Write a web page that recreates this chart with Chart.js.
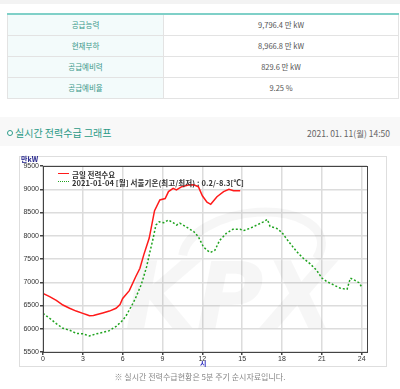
<!DOCTYPE html>
<html><head><meta charset="utf-8">
<script src="https://cdn.jsdelivr.net/npm/chart.js@4/dist/chart.umd.min.js"></script>
<style>
html,body{margin:0;padding:0;background:#fff;width:400px;height:389px;overflow:hidden;font-family:"Noto Sans CJK KR","Noto Sans",sans-serif;}
.abs{position:absolute;white-space:nowrap;}
#topbar{left:0;top:0;width:400px;height:4px;background:#f3f3f3;}
table{position:absolute;left:7px;top:13px;width:392px;border-collapse:collapse;border-top:2px solid #7fd0c8;font-size:7.5px;}
td{height:20px;border:1px solid #e3e3e3;text-align:center;padding:0;line-height:20px;}
td.k{width:155px;background:#f3fbfb;color:#3a988a;}
td.v{color:#555;}
#sec{left:0;top:117px;width:400px;height:29px;background:#f8f8f8;}
#icon{left:7px;top:130px;width:4px;height:4px;border:1.5px solid #2f9c8a;border-radius:50%;background:#fff;}
#title{left:15px;top:126px;font-size:10px;line-height:14px;color:#2b9a87;}
#date{right:10px;top:127px;font-size:8.5px;line-height:12px;color:#666;}
#box{left:19px;top:156px;width:366px;height:209px;border:1px solid #dedede;}
#wrap{left:20px;top:156px;width:365px;height:209px;}
#unit{left:21px;top:155px;font-size:7px;line-height:9px;color:#22228a;font-weight:bold;}
#hr{left:200px;top:359px;font-size:7px;line-height:9px;color:#2a2ac0;font-weight:bold;}
.lg{font-size:7.5px;line-height:9px;color:#333;font-weight:bold;}
#l1line{left:58px;top:173px;width:11px;height:0;border-top:1.5px solid #ff1a1a;}
#l2line{left:58px;top:181px;width:11px;height:0;border-top:1.5px dotted #1fa31f;}
#l1{left:72px;top:169.5px;}
#l2{left:72px;top:177.5px;letter-spacing:0.1px;}
#note{left:0;top:371px;width:400px;text-align:center;font-size:8px;line-height:11px;color:#888;}
</style></head>
<body>
<div id="topbar" class="abs"></div>
<table>
<tr><td class="k">공급능력</td><td class="v">9,796.4 만 kW</td></tr>
<tr><td class="k">현재부하</td><td class="v">8,966.8 만 kW</td></tr>
<tr><td class="k">공급예비력</td><td class="v">829.6 만 kW</td></tr>
<tr><td class="k">공급예비율</td><td class="v">9.25 %</td></tr>
</table>
<div id="sec" class="abs"></div>
<div id="icon" class="abs"></div>
<div id="title" class="abs">실시간 전력수급 그래프</div>
<div id="date" class="abs">2021. 01. 11(월) 14:50</div>
<div id="box" class="abs"></div>
<div id="wrap" class="abs"><canvas id="c" width="365" height="209"></canvas></div>
<div id="unit" class="abs">만kW</div>
<div id="l1line" class="abs"></div>
<div id="l2line" class="abs"></div>
<div id="l1" class="abs lg">금일 전력수요</div>
<div id="l2" class="abs lg">2021-01-04 [월] 서울기온(최고/최저) : 0.2/-8.3[℃]</div>
<div id="hr" class="abs">시</div>
<div id="note" class="abs">※ 실시간 전력수급현황은 5분 주기 순시자료입니다.</div>
<script>
// Today's demand (금일 전력수요), hours and values (만kW)
const hoursToday = [0,0.5,1,1.5,2,2.5,3,3.3,3.5,3.8,4,4.5,5,5.5,5.8,6,6.5,7,7.3,7.6,8,8.4,8.8,9.2,9.45,9.8,10.05,10.45,10.95,11.35,11.7,12,12.35,12.63,13.1,13.6,14,14.35,14.85];
const demandToday = [6760,6690,6610,6510,6440,6380,6330,6300,6280,6285,6300,6340,6380,6440,6520,6650,6820,7130,7300,7600,7950,8540,8770,8800,8950,9020,8985,9055,9090,9095,9055,8860,8720,8676,8840,8948,9000,8970,8970];
// Reference day 2021-01-04
const hoursRef = [0,0.5,1,1.5,2,2.5,3,3.5,4,4.5,5,5.5,6,6.3,6.8,7,7.4,7.8,8.05,8.3,8.5,8.75,9.1,9.45,9.8,10.05,10.3,10.55,10.95,11.35,11.7,12.08,12.4,12.6,12.95,13.3,13.8,14.3,14.85,15.1,15.6,16.1,16.6,16.9,17.1,17.6,18,18.3,18.6,19.1,19.6,20.1,20.6,21,21.4,21.9,22.4,22.9,23.15,23.5,23.8,24];
const demandRef = [6330,6225,6110,6010,5970,5900,5890,5845,5890,5920,5960,6050,6180,6300,6560,6680,6950,7330,7650,7950,8230,8300,8280,8340,8280,8230,8270,8230,8160,8090,7980,7760,7680,7640,7690,7900,8050,8140,8140,8110,8160,8230,8300,8350,8200,8160,8070,7950,7840,7660,7515,7400,7260,7090,7010,6940,6870,6850,7090,7040,6990,6900];
const yTickValues = [5500,6000,6500,7000,7500,8000,8500,9000,9500];
const xTickValues = [0,3,6,9,12,15,18,21,24];

const toXY = (xs, ys) => xs.map((x, i) => ({x: x, y: ys[i]}));

const framePlugin = {
  id: 'frame',
  beforeDatasetsDraw(chart) {
    const {ctx, chartArea: a} = chart;
    ctx.save();
    ctx.beginPath();
    ctx.rect(a.left, a.top, a.right - a.left, a.bottom - a.top);
    ctx.clip();
    ctx.fillStyle = 'rgba(0,0,0,0.035)';
    ctx.font = 'italic bold 92px "DejaVu Sans"';
    ctx.textBaseline = 'alphabetic';
    ctx.fillText('KPX', 105, 172);
    ctx.strokeStyle = 'rgba(0,0,0,0.035)';
    ctx.lineWidth = 9;
    ctx.beginPath();
    ctx.ellipse(232, 95, 70, 38, -0.15, Math.PI * 1.05, Math.PI * 2.15);
    ctx.stroke();
    ctx.restore();
  },
  afterDraw(chart) {
    const {ctx, chartArea: a} = chart;
    ctx.save();
    ctx.strokeStyle = '#444';
    ctx.lineWidth = 1;
    ctx.strokeRect(Math.round(a.left) + 0.5, Math.round(a.top) + 0.5, Math.round(a.right - a.left), Math.round(a.bottom - a.top));
    ctx.restore();
  }
};

new Chart(document.getElementById('c'), {
  type: 'line',
  data: {
    datasets: [
      {label: '금일 전력수요', data: toXY(hoursToday, demandToday), borderColor: '#ff1a1a', borderWidth: 1.5, pointRadius: 0, tension: 0, fill: false},
      {label: '2021-01-04 [월] 서울기온(최고/최저) : 0.2/-8.3[℃]', data: toXY(hoursRef, demandRef), borderColor: '#1fa31f', borderWidth: 1.5, borderDash: [2, 2], pointRadius: 0, tension: 0, fill: false}
    ]
  },
  options: {
    responsive: false,
    animation: false,
    layout: {padding: {top: 10, right: 18, left: 0, bottom: 0}},
    plugins: {legend: {display: false}, tooltip: {enabled: false}},
    scales: {
      x: {
        type: 'linear', min: 0, max: 24.4,
        afterBuildTicks: s => { s.ticks = xTickValues.map(v => ({value: v})); },
        afterFit: s => { s.height = 13; },
        ticks: {font: {size: 7, family: 'Liberation Sans'}, color: '#333', padding: 0, maxRotation: 0, autoSkip: false, callback: v => String(v)},
        grid: {color: '#dcdcdc', lineWidth: 1.5, tickLength: 3, tickColor: '#444', drawTicks: true},
        border: {display: false}
      },
      y: {
        min: 5500, max: 9500,
        afterBuildTicks: s => { s.ticks = yTickValues.map(v => ({value: v})); },
        afterFit: s => { s.width = 23; },
        ticks: {font: {size: 7, family: 'Liberation Sans'}, color: '#333', padding: 1, callback: v => String(v)},
        grid: {color: '#dcdcdc', lineWidth: 1.5, tickLength: 3, tickColor: '#444', drawTicks: true},
        border: {display: false}
      }
    }
  },
  plugins: [framePlugin]
});
</script>
</body></html>
